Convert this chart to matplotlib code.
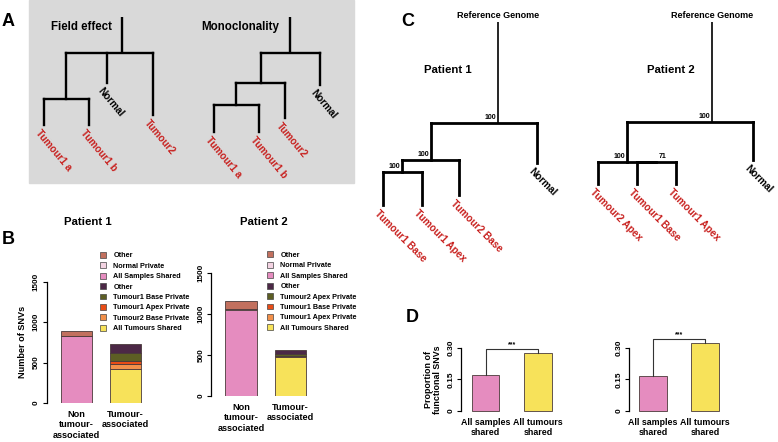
import matplotlib
matplotlib.use("Agg")
import matplotlib.pyplot as plt
from matplotlib.patches import Rectangle, Patch

plt.rcParams["font.family"] = ["Liberation Sans", "DejaVu Sans"]
plt.rcParams["font.weight"] = "bold"
plt.rcParams["axes.labelweight"] = "bold"

W, H = 778, 442
RED = "#c8201e"

# ---------------- data ----------------
# panel A: schematic trees (leaf x offset, branch depth from top of root stem)
fe_names = ["Tumour1 a", "Tumour1 b", "Normal", "Tumour2"]
fe_leaf_x = [0, 45, 63, 109]
fe_leaf_depth = [108, 108, 66, 98]
fe_node_kids = [[0, 1], [4, 2, 3]]
fe_node_depth = [82, 36]

mc_names = ["Tumour1 a", "Tumour1 b", "Tumour2", "Normal"]
mc_leaf_x = [0, 45, 71, 106]
mc_leaf_depth = [115, 115, 101, 68]
mc_node_kids = [[0, 1], [4, 2], [5, 3]]
mc_node_depth = [88, 66, 36]

# panel C: phylogenies with bootstrap support
p1_names = ["Tumour1 Base", "Tumour1 Apex", "Tumour2 Base", "Normal"]
p1_leaf_x = [0, 39, 76, 154]
p1_leaf_depth = [183, 183, 173, 141]
p1_node_kids = [[0, 1], [4, 2], [5, 3]]
p1_node_depth = [150, 138, 101]
p1_support = ["100", "100", "100"]

p2_names = ["Tumour2 Apex", "Tumour1 Base", "Tumour1 Apex", "Normal"]
p2_leaf_x = [0, 39, 78, 155]
p2_leaf_depth = [162, 162, 162, 138]
p2_node_kids = [[1, 2], [0, 4], [5, 3]]
p2_node_depth = [140, 140, 100]
p2_support = ["71", "100", "100"]

# panel B: SNV counts, stacked bottom -> top
nontum_labels = ["All Samples Shared", "Normal Private", "Other"]
nontum_colors = ["#e58cbf", "#f3d3e2", "#c2705e"]
tum_colors = ["#f7e25a", "#f2904a", "#e84c16", "#5d5e24", "#4c2846"]
p1_tum_labels = ["All Tumours Shared", "Tumour2 Base Private", "Tumour1 Apex Private",
                 "Tumour1 Base Private", "Other"]
p2_tum_labels = ["All Tumours Shared", "Tumour1 Apex Private", "Tumour1 Base Private",
                 "Tumour2 Apex Private", "Other"]
p1_nontum = [828, 5, 52]
p1_tum = [416, 62, 44, 91, 115]
p2_nontum = [1045, 15, 100]
p2_tum = [472, 10, 10, 20, 49]
b_cats = ["Non\ntumour-\nassociated", "Tumour-\nassociated"]
b_ticks = [0, 500, 1000, 1500]

# panel D: proportion of functional SNVs
d_cats = ["All samples\nshared", "All tumours\nshared"]
d_p1 = [0.170, 0.275]
d_p2 = [0.166, 0.322]
d_ticks = [0, 0.15, 0.30]
d_ticklabels = ["0", "0.15", "0.30"]

# ---------------- figure ----------------
fig = plt.figure(figsize=(W / 100, H / 100), dpi=100)
ax0 = fig.add_axes([0, 0, 1, 1])
ax0.set_xlim(0, W)
ax0.set_ylim(H, 0)
ax0.axis("off")


def px_axes(left, right, top, bottom):
    a = fig.add_axes([left / W, (H - bottom) / H, (right - left) / W, (bottom - top) / H])
    a.patch.set_alpha(0)
    return a


def draw_tree(ox, oy, names, leaf_x, leaf_depth, kids, depth, root_x=None,
              support=None, lw=1.7, stem_lw=None, rot=-45, fs=7.2, sup_side=None):
    xs = list(leaf_x)
    for i, (k, d) in enumerate(zip(kids, depth)):
        cx = [xs[j] for j in k]
        nx = (min(cx) + max(cx)) / 2
        if i == len(kids) - 1 and root_x is not None:
            nx = root_x
        xs.append(nx)
        ax0.plot([ox + min(cx), ox + max(cx)], [oy + d, oy + d], color="black",
                 lw=lw, solid_capstyle="projecting")
        for j in k:
            end = leaf_depth[j] if j < len(leaf_x) else depth[j - len(leaf_x)]
            ax0.plot([ox + xs[j], ox + xs[j]], [oy + d, oy + end], color="black",
                     lw=lw, solid_capstyle="projecting")
        if support is not None:
            side = sup_side[i] if sup_side else "right"
            dx = -2 if side == "right" else 2
            ax0.text(ox + nx + dx, oy + d - 2, support[i], fontsize=5, ha=side,
                     va="bottom")
    ax0.plot([ox + xs[-1], ox + xs[-1]], [oy, oy + depth[-1]], color="black",
             lw=stem_lw or lw, solid_capstyle="butt")
    for n, x, d in zip(names, leaf_x, leaf_depth):
        ax0.text(ox + x - 3, oy + d + 3, n, rotation=rot, rotation_mode="anchor",
                 ha="left", va="top", fontsize=fs,
                 color="black" if n == "Normal" else RED)


# ---- panel A ----
ax0.add_patch(Rectangle((29, 0), 325, 183, color="#d9d9d9", zorder=0))
draw_tree(44, 17, fe_names, fe_leaf_x, fe_leaf_depth, fe_node_kids, fe_node_depth,
          root_x=78, rot=-50)
draw_tree(214, 17, mc_names, mc_leaf_x, mc_leaf_depth, mc_node_kids, mc_node_depth,
          rot=-50)
ax0.text(82, 27, "Field effect", fontsize=8.3, ha="center", va="center")
ax0.text(240, 27, "Monoclonality", fontsize=8.3, ha="center", va="center")

# ---- panel C ----
draw_tree(383, 22, p1_names, p1_leaf_x, p1_leaf_depth, p1_node_kids, p1_node_depth,
          root_x=115, support=p1_support, lw=2.0, stem_lw=1.2)
draw_tree(598, 22, p2_names, p2_leaf_x, p2_leaf_depth, p2_node_kids, p2_node_depth,
          root_x=114, support=p2_support, lw=2.0, stem_lw=1.2,
          sup_side=["left", "right", "right"])
for x, t in [(498, "Reference Genome"), (712, "Reference Genome")]:
    ax0.text(x, 15, t, fontsize=6.5, ha="center", va="center")
ax0.text(448, 70, "Patient 1", fontsize=8.2, ha="center", va="center")
ax0.text(671, 70, "Patient 2", fontsize=8.2, ha="center", va="center")

# panel letters
for x, y, s in [(8, 21, "A"), (8, 240, "B"), (408, 21, "C"), (412, 318, "D")]:
    ax0.text(x, y, s, fontsize=13, ha="center", va="center")

# ---- panel B ----
ax0.text(88, 222, "Patient 1", fontsize=8.2, ha="center", va="center")
ax0.text(264, 222, "Patient 2", fontsize=8.2, ha="center", va="center")


def stacked(ax, nontum, tum, tum_labels, legend_xy):
    handles = []
    for vals, colors, xpos in [(nontum, nontum_colors, 0), (tum, tum_colors, 1)]:
        bottom = 0
        for v, c in zip(vals, colors):
            ax.bar(xpos, v, bottom=bottom, width=0.63, color=c, edgecolor="#4a3a3a",
                   linewidth=0.6)
            bottom += v
    labels = nontum_labels[::-1] + tum_labels[::-1]
    colors = nontum_colors[::-1] + tum_colors[::-1]
    for l, c in zip(labels, colors):
        handles.append(Patch(facecolor=c, edgecolor="#444444", linewidth=0.5, label=l))
    ax.legend(handles=handles, loc="upper left", frameon=False, fontsize=5.2,
              bbox_to_anchor=(legend_xy[0] / W, 1 - legend_xy[1] / H),
              bbox_transform=fig.transFigure, borderaxespad=0, borderpad=0,
              handlelength=0.85, handleheight=0.85, handletextpad=1.0, labelspacing=0.42)
    ax.set_ylim(0, 1500)
    ax.set_yticks(b_ticks)
    ax.set_yticklabels([str(t) for t in b_ticks], rotation=90, va="center", fontsize=5.8)
    ax.set_xticks([0, 1])
    ax.set_xticklabels(b_cats, fontsize=6.6, linespacing=1.2)
    ax.tick_params(axis="x", length=0, pad=5)
    ax.tick_params(axis="y", length=2.8, width=0.8, pad=2)
    for s in ["top", "right", "bottom"]:
        ax.spines[s].set_visible(False)
    ax.spines["left"].set_bounds(0, 1500)
    ax.spines["left"].set_linewidth(0.9)


axb1 = px_axes(46.5, 150, 281.5, 403)
axb1.set_xlim((46.5 - 76.5) / 49, (150 - 76.5) / 49)
stacked(axb1, p1_nontum, p1_tum, p1_tum_labels, (100, 252))
axb1.set_ylabel("Number of SNVs", fontsize=6.6, labelpad=4)

axb2 = px_axes(211, 330, 273, 396)
axb2.set_xlim((211 - 241) / 49.4, (330 - 241) / 49.4)
stacked(axb2, p2_nontum, p2_tum, p2_tum_labels, (267, 251.5))


# ---- panel D ----
def prop_bars(ax, vals):
    ax.bar([0, 1], vals, width=0.52, color=[nontum_colors[0], tum_colors[0]],
           edgecolor="#4a3a3a", linewidth=0.6, clip_on=False)
    top = max(vals) + 0.019
    ax.plot([0, 0, 1, 1], [vals[0], top, top, vals[1]], color="#333333", lw=0.8,
            clip_on=False)
    ax.text(0.5, top + 0.004, "***", fontsize=5, ha="center", va="bottom")
    ax.set_ylim(0, 0.30)
    ax.set_yticks(d_ticks)
    ax.set_yticklabels(d_ticklabels, rotation=90, va="center", fontsize=6)
    ax.set_xticks([0, 1])
    ax.set_xticklabels(d_cats, fontsize=6.4, linespacing=1.15)
    ax.tick_params(axis="x", length=0, pad=5)
    ax.tick_params(axis="y", length=2.8, width=0.8, pad=2)
    for s in ["top", "right", "bottom"]:
        ax.spines[s].set_visible(False)
    ax.spines["left"].set_bounds(0, 0.30)
    ax.spines["left"].set_linewidth(0.9)


axd1 = px_axes(461, 575, 347.7, 411)
axd1.set_xlim((461 - 485.5) / 52.5, (575 - 485.5) / 52.5)
prop_bars(axd1, d_p1)
axd1.set_ylabel("Proportion of\nfunctional SNVs", fontsize=6.4, labelpad=4, linespacing=1.0)

axd2 = px_axes(629, 745, 347.7, 411)
axd2.set_xlim((629 - 653) / 52, (745 - 653) / 52)
prop_bars(axd2, d_p2)

fig.savefig("out.png", dpi=100)
